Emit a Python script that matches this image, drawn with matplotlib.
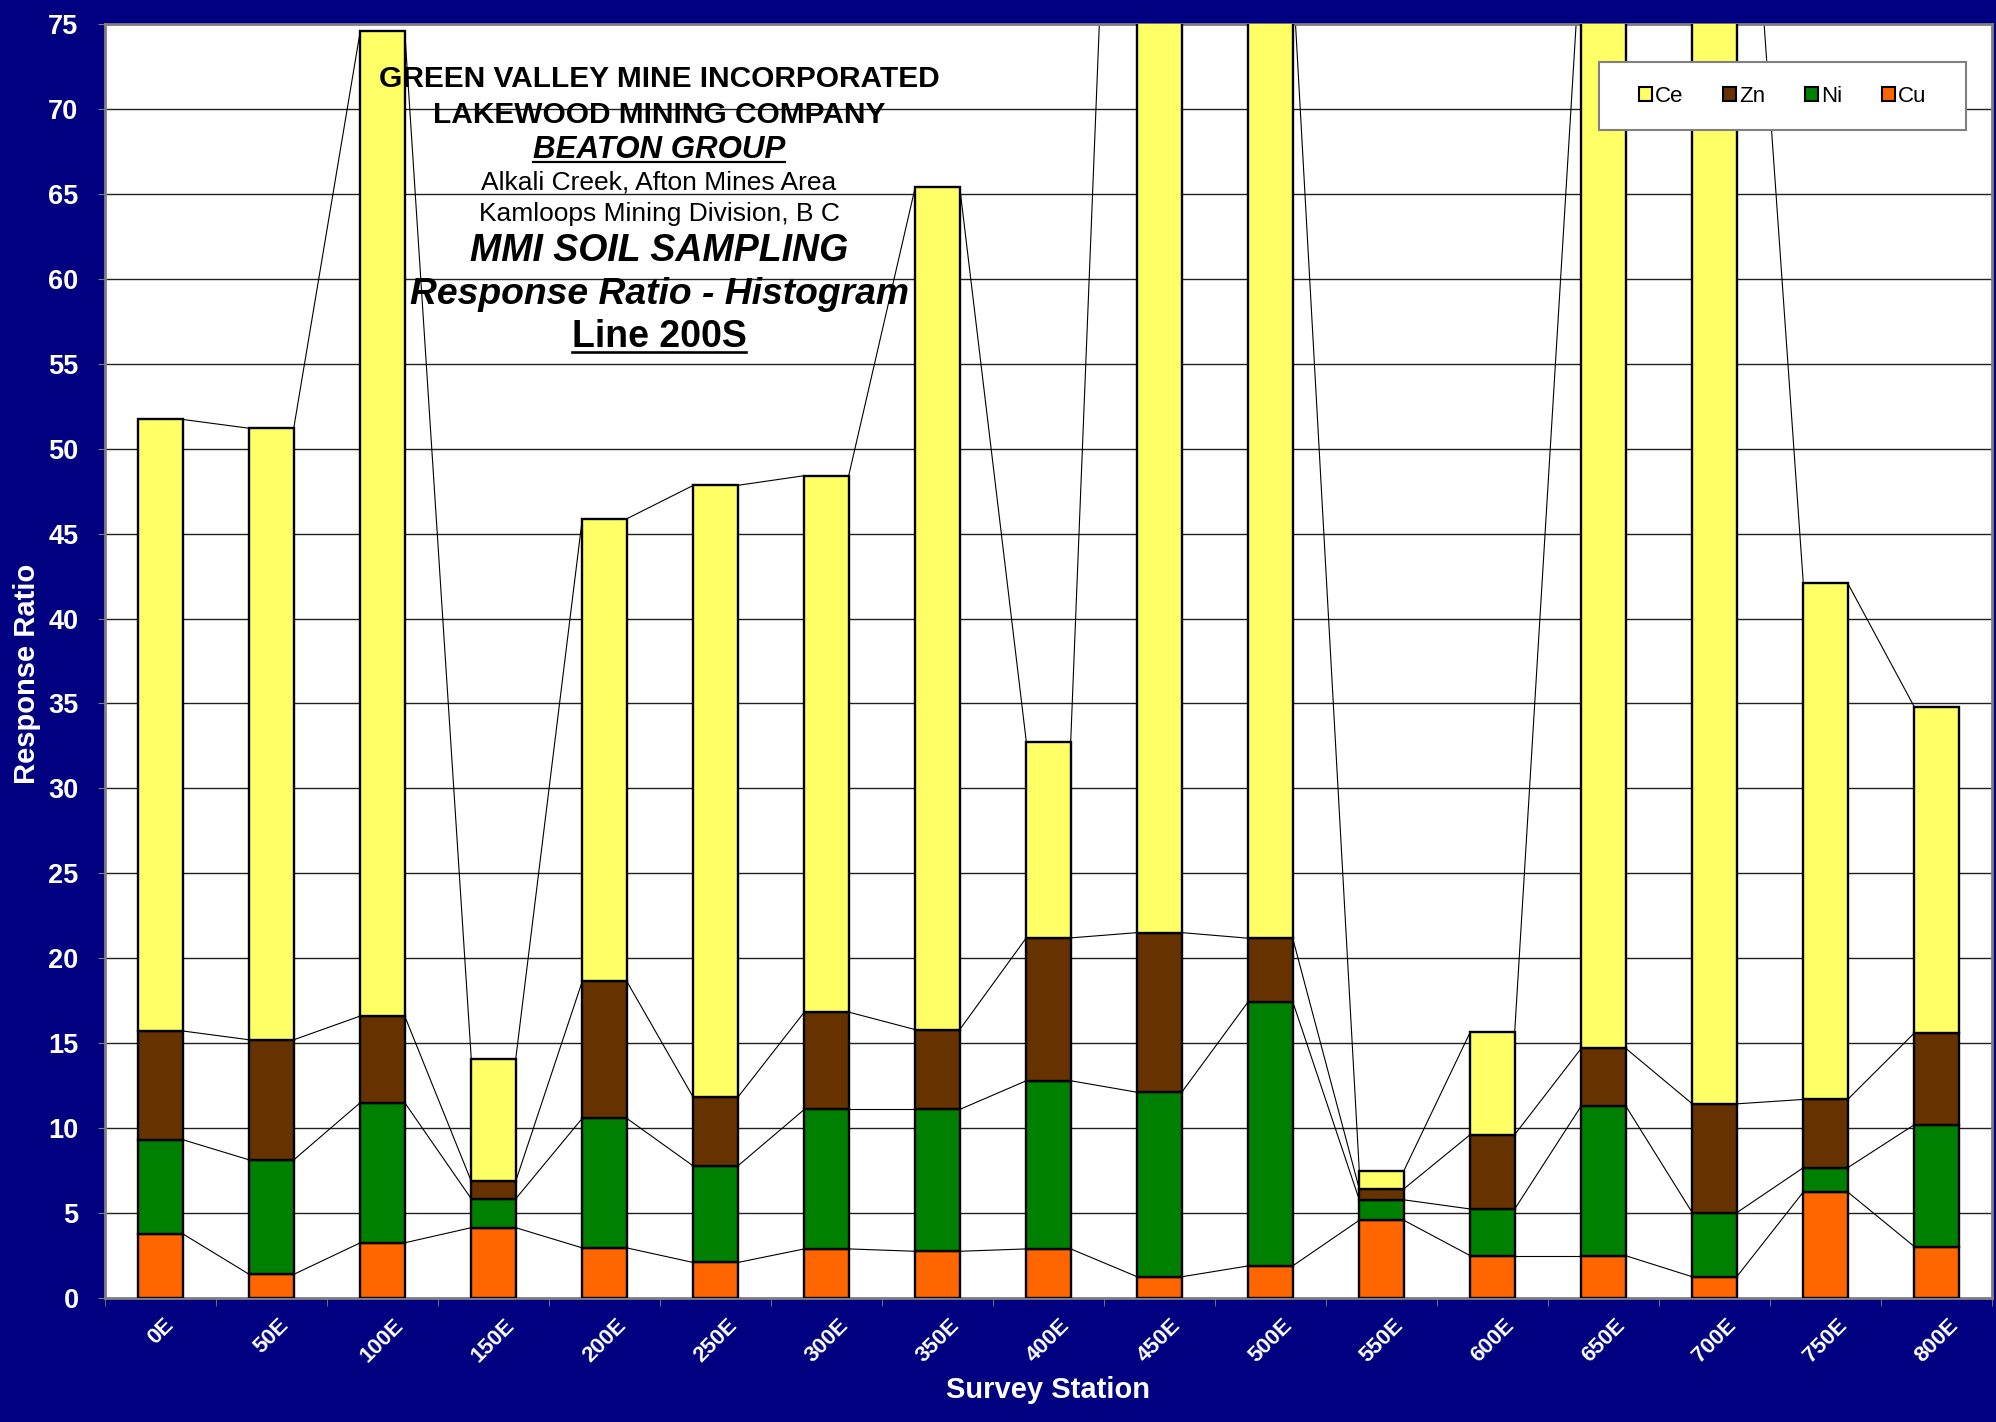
import numpy as np
import matplotlib.pyplot as plt
from matplotlib.patches import Patch, Rectangle
from matplotlib.lines import Line2D

# MMI soil sampling, line 200S - response ratios per station
stations = ['0E', '50E', '100E', '150E', '200E', '250E', '300E', '350E', '400E',
            '450E', '500E', '550E', '600E', '650E', '700E', '750E', '800E']
cu = [3.78, 1.39, 3.25, 4.14, 2.95, 2.09, 2.89, 2.75, 2.89,
      1.25, 1.89, 4.58, 2.49, 2.49, 1.25, 6.24, 3.03]
ni = [5.54, 6.74, 8.25, 1.70, 7.63, 5.68, 8.21, 8.35, 9.90,
      10.86, 15.56, 1.20, 2.75, 8.82, 3.77, 1.43, 7.17]
zn = [6.40, 7.07, 5.10, 1.03, 8.07, 4.04, 5.73, 4.70, 8.41,
      9.40, 3.73, 0.64, 4.38, 3.39, 6.41, 4.02, 5.40]
ce = [36.00, 36.00, 58.00, 7.19, 27.22, 36.03, 31.58, 49.61, 11.55,
      109.5, 56.80, 1.05, 6.04, 65.30, 86.60, 30.39, 19.20]

elements = ['Cu', 'Ni', 'Zn', 'Ce']
colors = {'Cu': '#FF6600', 'Ni': '#008000', 'Zn': '#663300', 'Ce': '#FFFF66'}

W, H = 1996, 1422
navy = '#000080'
plt.rcParams['font.family'] = ['Liberation Sans', 'DejaVu Sans']

fig = plt.figure(figsize=(W / 100, H / 100), dpi=100, facecolor=navy)
ax = fig.add_axes([105 / W, 1 - 1298 / H, (1992 - 105) / W, (1298 - 24) / H])
ax.set_facecolor('white')

x = np.arange(len(stations))
bw = 0.4
data = {'Cu': np.array(cu), 'Ni': np.array(ni), 'Zn': np.array(zn), 'Ce': np.array(ce)}

bottom = np.zeros(len(stations))
tops = []
for el in elements:
    ax.bar(x, data[el], bw, bottom=bottom, color=colors[el], edgecolor='black',
           linewidth=1.7, zorder=3)
    bottom = bottom + data[el]
    tops.append(bottom.copy())

# series lines joining segment tops between neighbouring bars
for t in tops:
    for i in range(len(stations) - 1):
        ax.plot([x[i] + bw / 2, x[i + 1] - bw / 2], [t[i], t[i + 1]],
                color='black', lw=0.8, zorder=2)

ax.set_xlim(-0.5, len(stations) - 0.5)
ax.set_ylim(0, 75)
ax.set_yticks(np.arange(0, 76, 5))
ax.yaxis.grid(True, color='#202020', lw=1)
ax.set_axisbelow(True)

for sp in ax.spines.values():
    sp.set_color('#808080')
    sp.set_linewidth(2)

ax.tick_params(axis='y', direction='out', length=5, color='#808080', pad=14,
               labelsize=19.5, labelcolor='white')
for lab in ax.get_yticklabels():
    lab.set_fontweight('bold')

ax.set_xticks(x)
ax.set_xticklabels(stations, rotation=45, ha='center', va='top',
                   fontsize=16, fontweight='bold', color='white')
ax.tick_params(axis='x', which='major', length=0, pad=12)
ax.set_xticks(np.arange(-0.5, len(stations), 1), minor=True)
ax.tick_params(axis='x', which='minor', direction='out', length=6, color='#808080')

ax.set_xlabel('Survey Station', fontsize=21, fontweight='bold', color='white')
ax.xaxis.set_label_coords(0.5, (1298 - 1390) / 1274)
ax.xaxis.label.set_va('center')
ax.set_ylabel('Response Ratio', fontsize=21, fontweight='bold', color='white')
ax.yaxis.set_label_coords((27 - 105) / 1887, 0.49)
ax.yaxis.label.set_va('center')

# legend with its own white box
fig.add_artist(Rectangle((1599 / W, 1 - 130 / H), (1966 - 1599) / W, 68 / H,
                         transform=fig.transFigure, facecolor='white',
                         edgecolor='#808080', lw=1.5, zorder=5))
handles = [Patch(facecolor=colors[el], edgecolor='black', lw=1.5) for el in elements[::-1]]
fig.legend(handles, elements[::-1], ncol=4, frameon=False, loc='center',
           bbox_to_anchor=((1599 + 1966) / 2 / W, 1 - 96 / H),
           fontsize=16, handlelength=0.6, handleheight=0.6,
           handletextpad=0.12, columnspacing=1.8).set_zorder(6)

# title block inside the plot
cx = 659
title_lines = [
    ('GREEN VALLEY MINE INCORPORATED', 76.7, 21.5, 'bold', 'normal', False),
    ('LAKEWOOD MINING COMPANY', 112, 21.5, 'bold', 'normal', False),
    ('BEATON GROUP', 147, 22.5, 'bold', 'italic', True),
    ('Alkali Creek, Afton Mines Area', 180, 19, 'normal', 'normal', False),
    ('Kamloops Mining Division, B C', 211.5, 19, 'normal', 'normal', False),
    ('MMI SOIL SAMPLING', 248, 27, 'bold', 'italic', False),
    ('Response Ratio - Histogram', 291, 26.8, 'bold', 'italic', False),
    ('Line 200S', 334, 27, 'bold', 'normal', True),
]
texts = []
for s, yc, size, wt, st, ul in title_lines:
    em = size * 100 / 72
    base = yc + 0.358 * em
    t = fig.text(cx / W, 1 - base / H, s, ha='center', va='baseline', fontsize=size,
                 fontweight=wt, fontstyle=st, color='black', zorder=7)
    texts.append((t, base, em, ul))

fig.canvas.draw()
r = fig.canvas.get_renderer()
for t, base, em, ul in texts:
    if not ul:
        continue
    bb = t.get_window_extent(r)
    yu = 1 - (base + 0.11 * em) / H
    fig.add_artist(Line2D([bb.x0 / W, bb.x1 / W], [yu, yu], transform=fig.transFigure,
                          color='black', lw=0.07 * em * 0.72, zorder=7))

fig.savefig('out.png', dpi=100, facecolor=navy)
